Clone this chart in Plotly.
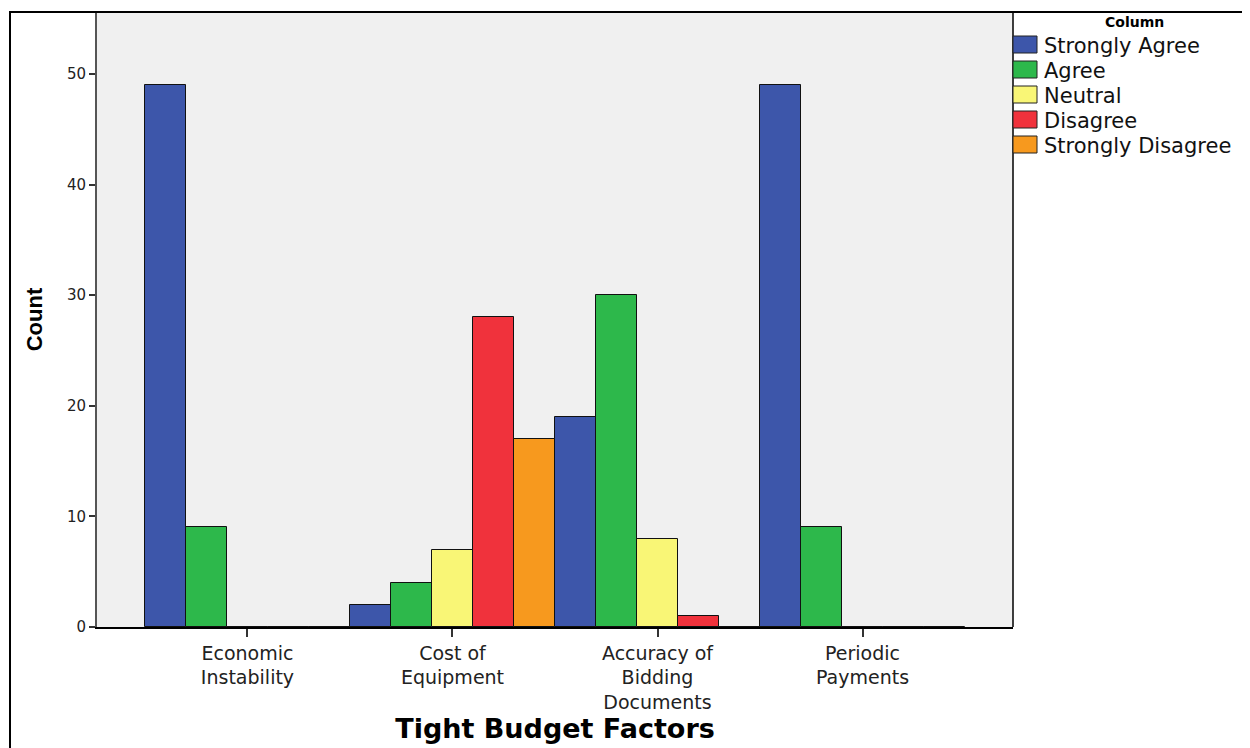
import plotly.graph_objects as go

# ---------------- data ----------------
categories = ["Economic Instability", "Cost of Equipment",
              "Accuracy of Bidding Documents", "Periodic Payments"]
tick_labels = ["Economic<br>Instability", "Cost of<br>Equipment",
               "Accuracy of<br>Bidding<br>Documents", "Periodic<br>Payments"]
series_names = ["Strongly Agree", "Agree", "Neutral", "Disagree", "Strongly Disagree"]
strongly_agree = [49, 2, 19, 49]
agree = [9, 4, 30, 9]
neutral = [0, 7, 8, 0]
disagree = [0, 28, 1, 0]
strongly_disagree = [0, 17, 0, 0]
series_values = [strongly_agree, agree, neutral, disagree, strongly_disagree]
colors = ["#3d56aa", "#2db84b", "#f9f676", "#f0323c", "#f7991e"]
y_ticks = [0, 10, 20, 30, 40, 50]

# page body has an 8px margin, so the figure is 8px smaller
W, H = 1242, 740
L, R, T, B = 89, 237, 4, 121

fig = go.Figure()
for name, vals, col in zip(series_names, series_values, colors):
    fig.add_trace(go.Bar(
        x=categories, y=vals, name=name, showlegend=False,
        marker=dict(color=col, line=dict(color="#111111", width=1)),
    ))

shapes = []
# outer frame (left + top)
shapes.append(dict(type="line", xref="paper", yref="paper",
                   xsizemode="pixel", xanchor=0, x0=-87, x1=-87,
                   ysizemode="pixel", yanchor=1, y0=1, y1=-760,
                   line=dict(color="black", width=2)))
shapes.append(dict(type="line", xref="paper", yref="paper",
                   xsizemode="pixel", xanchor=0, x0=-88, x1=1180,
                   ysizemode="pixel", yanchor=1, y0=0, y1=0,
                   line=dict(color="black", width=2)))
# right border of plot area
shapes.append(dict(type="line", xref="paper", yref="paper",
                   x0=1, x1=1, y0=0, y1=1,
                   line=dict(color="black", width=1.5)))

annotations = []
# manual legend
annotations.append(dict(text="<b>Column</b>", xref="paper", yref="paper",
                        x=1, y=1, xshift=121, yshift=-10,
                        xanchor="center", yanchor="middle", showarrow=False,
                        font=dict(family="DejaVu Sans", size=14, color="black")))
top_px = 12
for i, (name, col) in enumerate(zip(series_names, colors)):
    cy = 44.5 + 25 * i - top_px
    shapes.append(dict(type="rect", xref="paper", yref="paper",
                       xsizemode="pixel", xanchor=1, x0=0, x1=24,
                       ysizemode="pixel", yanchor=1, y0=-(cy - 8.5), y1=-(cy + 8.5),
                       fillcolor=col, line=dict(color="#222222", width=1)))
    annotations.append(dict(text=name, xref="paper", yref="paper",
                            x=1, y=1, xshift=29, yshift=-(cy + 1),
                            xanchor="left", yanchor="middle", showarrow=False,
                            font=dict(family="DejaVu Sans", size=21, color="#111111")))

fig.update_layout(
    width=W, height=H,
    margin=dict(l=L, r=R, t=T, b=B, autoexpand=False),
    paper_bgcolor="white", plot_bgcolor="#f0f0f0",
    barmode="group", bargap=0, bargroupgap=0,
    showlegend=False,
    shapes=shapes, annotations=annotations,
    xaxis=dict(
        range=[-0.734, 3.734], tickmode="array", tickvals=categories, ticktext=tick_labels,
        ticks="outside", ticklen=8, tickcolor="#333333", tickwidth=1.5,
        tickfont=dict(family="DejaVu Sans", size=19, color="#222222"),
        showline=True, linecolor="black", linewidth=1.5, showgrid=False,
        title=dict(text="<b>Tight Budget Factors</b>", standoff=5,
                   font=dict(family="DejaVu Sans", size=27, color="black")),
    ),
    yaxis=dict(
        range=[0, 55.6], tickmode="array", tickvals=y_ticks,
        ticks="outside", ticklen=6, tickcolor="#333333", tickwidth=1.5,
        tickfont=dict(family="DejaVu Sans", size=15, color="#222222"),
        showline=True, linecolor="#555555", linewidth=2, showgrid=False, zeroline=False,
        title=dict(text="<b>Count</b>", standoff=18,
                   font=dict(family="Liberation Sans Narrow, Liberation Sans", size=22, color="black")),
    ),
)

fig.write_html("out.html")
